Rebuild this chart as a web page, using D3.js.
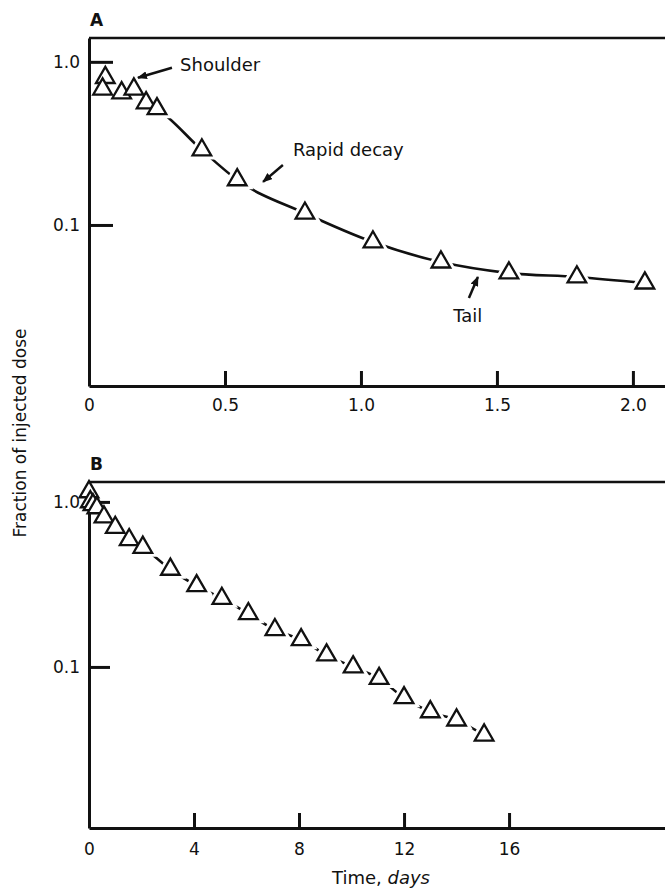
<!DOCTYPE html>
<html>
<head>
<meta charset="utf-8">
<script src="https://cdn.jsdelivr.net/npm/d3@7/dist/d3.min.js"></script>
<style>
  body { margin: 0; background: #fff; }
  svg { display: block; font-family: "DejaVu Sans", sans-serif; }
</style>
</head>
<body>
<div id="chart-container"></div>
<script>
// Panel A: first two days
const timesA = [0.06, 0.05, 0.12, 0.165, 0.21, 0.25, 0.415, 0.545, 0.794, 1.044, 1.294, 1.544, 1.794, 2.044];
const fractionsA = [0.80, 0.68, 0.645, 0.68, 0.56, 0.515, 0.288, 0.189, 0.118, 0.0786, 0.0592, 0.0507, 0.048, 0.044];

// Panel B: sixteen days
const timesB = [0, 0.05, 0.15, 0.3, 0.57, 1.0, 1.53, 2.05, 3.1, 4.1, 5.06, 6.07, 7.08, 8.08, 9.05, 10.06, 11.05, 12.0, 13.0, 14.0, 15.05];
const fractionsB = [1.15, 1.0, 0.96, 0.92, 0.81, 0.70, 0.59, 0.53, 0.39, 0.31, 0.26, 0.21, 0.168, 0.146, 0.118, 0.10, 0.085, 0.065, 0.0534, 0.0476, 0.0386];

// Tick values and labels
const xTicksA = [0, 0.5, 1.0, 1.5, 2.0];
const xLabelsA = ['0', '0.5', '1.0', '1.5', '2.0'];
const xTicksB = [0, 4, 8, 12, 16];
const xLabelsB = ['0', '4', '8', '12', '16'];
const yTicks = [1.0, 0.1];
const yLabels = ['1.0', '0.1'];

// Annotations of panel A (data coordinates)
const notesA = [
  { text: 'Shoulder', t: 0.335, f: 0.881, anchor: 'start', from: [0.305, 0.919], to: [0.18, 0.798] },
  { text: 'Rapid decay', t: 0.75, f: 0.265, anchor: 'start', from: [0.713, 0.233], to: [0.64, 0.1836] },
  { text: 'Tail', t: 1.393, f: 0.0254, anchor: 'middle', from: [1.397, 0.0357], to: [1.43, 0.048] }
];

const svgWidth = 665;
const svgHeight = 888;
const ink = '#111';

const svg = d3.select('#chart-container')
  .append('svg')
  .attr('width', svgWidth)
  .attr('height', svgHeight);

svg.append('defs').append('marker')
  .attr('id', 'arrow')
  .attr('viewBox', '0 0 10 8')
  .attr('refX', 9).attr('refY', 4)
  .attr('markerWidth', 10).attr('markerHeight', 8)
  .attr('markerUnits', 'userSpaceOnUse')
  .attr('orient', 'auto')
  .append('path')
  .attr('d', 'M0,0L10,4L0,8Z')
  .attr('fill', ink);

const tri = d3.symbol().type(d3.symbolTriangle).size(150);

// Draw one panel
function drawPanel(cfg) {
  const x = d3.scaleLinear().domain(cfg.xDomain).range([cfg.left, svgWidth]);
  const y = d3.scaleLog().domain(cfg.yDomain).range([cfg.bottom, cfg.top]);
  const g = svg.append('g');

  const pts = cfg.times.map((t, i) => ({ t, f: cfg.fractions[i] }));
  const linePts = pts.filter(d => d.t >= cfg.lineFrom).sort((a, b) => a.t - b.t);

  const line = d3.line()
    .x(d => x(d.t))
    .y(d => y(d.f))
    .curve(d3.curveMonotoneX);

  g.append('path')
    .datum(linePts)
    .attr('d', line)
    .attr('fill', 'none')
    .attr('stroke', ink)
    .attr('stroke-width', 2.6);

  // white halo so the line stops short of each marker
  g.selectAll('.halo')
    .data(pts)
    .enter()
    .append('path')
    .attr('class', 'halo')
    .attr('transform', d => 'translate(' + x(d.t) + ',' + y(d.f) + ')')
    .attr('d', tri)
    .attr('fill', '#fff')
    .attr('stroke', '#fff')
    .attr('stroke-width', 8);

  // frame top line
  g.append('line')
    .attr('x1', cfg.left).attr('x2', svgWidth)
    .attr('y1', cfg.top).attr('y2', cfg.top)
    .attr('stroke', ink).attr('stroke-width', 2.5);

  // y axis with inward ticks
  const yAxis = g.append('g')
    .attr('transform', 'translate(' + cfg.left + ',0)')
    .call(d3.axisLeft(y).tickValues(yTicks).tickFormat((d, i) => yLabels[i])
      .tickSizeInner(-cfg.yTickLen).tickSizeOuter(0).tickPadding(9));
  yAxis.select('.domain').attr('stroke', ink).attr('stroke-width', 3);
  yAxis.selectAll('.tick line').attr('stroke', ink).attr('stroke-width', 3);
  yAxis.selectAll('text').attr('fill', ink).style('font-size', '17px').style('font-family', '"DejaVu Sans", sans-serif');

  // x axis with inward ticks
  const xAxis = g.append('g')
    .attr('transform', 'translate(0,' + cfg.bottom + ')')
    .call(d3.axisBottom(x).tickValues(cfg.xTicks).tickFormat((d, i) => cfg.xLabels[i])
      .tickSizeInner(-15).tickSizeOuter(0).tickPadding(cfg.xPad));
  xAxis.select('.domain').attr('stroke', ink).attr('stroke-width', 3);
  xAxis.selectAll('.tick line').attr('stroke', ink).attr('stroke-width', 3);
  xAxis.selectAll('text').attr('fill', ink).style('font-size', '17px').style('font-family', '"DejaVu Sans", sans-serif');

  // panel letter
  g.append('text')
    .attr('x', cfg.left + 1).attr('y', cfg.top - 12)
    .style('font-size', '17px').style('font-weight', 'bold')
    .attr('fill', ink)
    .text(cfg.letter);

  g.selectAll('.marker')
    .data(pts)
    .enter()
    .append('path')
    .attr('class', 'marker')
    .attr('transform', d => 'translate(' + x(d.t) + ',' + y(d.f) + ')')
    .attr('d', tri)
    .attr('fill', '#fff')
    .attr('stroke', ink)
    .attr('stroke-width', 2.3)
    .attr('stroke-linejoin', 'miter');

  return { x, y, g };
}

const panelA = drawPanel({
  letter: 'A', left: 89, top: 38, bottom: 386, yTickLen: 24, xPad: 13,
  xDomain: [0, 2.118], yDomain: [0.0103, 1.4],
  xTicks: xTicksA, xLabels: xLabelsA,
  times: timesA, fractions: fractionsA, lineFrom: 0.2
});

const panelB = drawPanel({
  letter: 'B', left: 89, top: 482, bottom: 828, yTickLen: 21, xPad: 15,
  xDomain: [0, 21.94], yDomain: [0.01057, 1.32],
  xTicks: xTicksB, xLabels: xLabelsB,
  times: timesB, fractions: fractionsB, lineFrom: 0.5
});

// Annotations in panel A
notesA.forEach(n => {
  panelA.g.append('text')
    .attr('x', panelA.x(n.t)).attr('y', panelA.y(n.f))
    .attr('text-anchor', n.anchor)
    .style('font-size', '18px')
    .attr('fill', ink)
    .text(n.text);
  panelA.g.append('line')
    .attr('x1', panelA.x(n.from[0])).attr('y1', panelA.y(n.from[1]))
    .attr('x2', panelA.x(n.to[0])).attr('y2', panelA.y(n.to[1]))
    .attr('stroke', ink).attr('stroke-width', 2.5)
    .attr('marker-end', 'url(#arrow)');
});

// Axis titles
svg.append('text')
  .attr('transform', 'translate(26,433) rotate(-90)')
  .attr('text-anchor', 'middle')
  .style('font-size', '17px')
  .attr('fill', ink)
  .text('Fraction of injected dose');

const xTitle = svg.append('text')
  .attr('x', 381).attr('y', 884)
  .attr('text-anchor', 'middle')
  .style('font-size', '18px')
  .attr('fill', ink);
xTitle.append('tspan').text('Time, ');
xTitle.append('tspan').style('font-style', 'italic').text('days');
</script>
</body>
</html>
